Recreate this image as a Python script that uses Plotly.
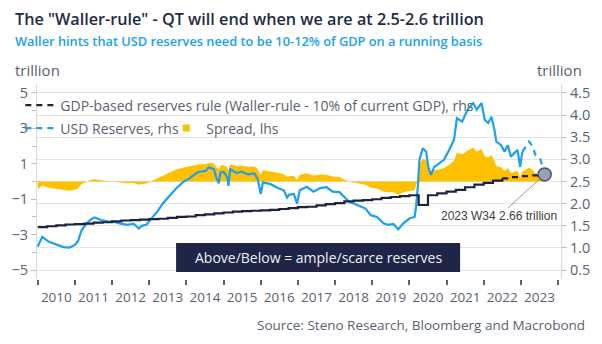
import numpy as np
import plotly.graph_objects as go

# ---- data -------------------------------------------------------------
# USD reserves (trillion), observations as decimal years
res_t = [2010.00, 2010.12, 2010.30, 2010.47, 2010.69, 2010.85, 2011.00, 2011.08, 2011.18, 2011.31,
         2011.44, 2011.53, 2011.70, 2011.88, 2012.06, 2012.23, 2012.41, 2012.58, 2012.72, 2012.80,
         2012.93, 2013.07, 2013.20, 2013.37, 2013.55, 2013.73, 2013.90, 2014.08, 2014.25, 2014.34,
         2014.52, 2014.60, 2014.74, 2014.80, 2014.87, 2014.92, 2015.00, 2015.10, 2015.13, 2015.18,
         2015.35, 2015.48, 2015.66, 2015.83, 2015.92, 2016.00, 2016.06, 2016.27, 2016.45, 2016.62,
         2016.71, 2016.76, 2016.89, 2016.98, 2017.05, 2017.24, 2017.42, 2017.60, 2017.77, 2017.94,
         2018.12, 2018.25, 2018.38, 2018.60, 2018.82, 2018.96, 2019.13, 2019.31, 2019.44, 2019.57,
         2019.70, 2019.83, 2020.01, 2020.14, 2020.18, 2020.23, 2020.27, 2020.36, 2020.45, 2020.51,
         2020.58, 2020.67, 2020.80, 2020.93, 2021.07, 2021.20, 2021.28, 2021.42, 2021.50, 2021.59,
         2021.72, 2021.81, 2021.94, 2022.03, 2022.12, 2022.21, 2022.29, 2022.34, 2022.47, 2022.56,
         2022.65, 2022.73, 2022.82, 2022.91, 2022.98, 2023.04]
res_v = [1.03, 1.25, 1.14, 1.09, 1.02, 1.01, 1.07, 1.15, 1.40, 1.55,
         1.65, 1.69, 1.63, 1.60, 1.59, 1.55, 1.52, 1.55, 1.44, 1.50,
         1.53, 1.68, 1.80, 2.01, 2.19, 2.35, 2.48, 2.57, 2.68, 2.72,
         2.74, 2.82, 2.78, 2.60, 2.46, 2.70, 2.72, 2.60, 2.40, 2.78,
         2.69, 2.72, 2.66, 2.68, 2.55, 2.22, 2.48, 2.44, 2.36, 2.30,
         2.14, 2.20, 2.22, 2.00, 2.30, 2.38, 2.27, 2.35, 2.37, 2.27,
         2.26, 2.16, 2.04, 1.97, 1.89, 1.74, 1.70, 1.55, 1.52, 1.54,
         1.42, 1.55, 1.67, 1.70, 1.93, 2.40, 2.99, 3.25, 3.17, 2.83,
         2.65, 2.83, 2.91, 2.99, 3.21, 3.44, 3.93, 3.85, 4.00, 4.15,
         4.27, 4.12, 4.27, 3.89, 3.82, 3.96, 3.66, 3.40, 3.32, 3.17,
         3.32, 3.06, 3.14, 3.21, 2.83, 3.17]
# projected path of reserves towards 2023 W34
proj_t = [2023.04, 2023.22, 2023.32, 2023.39, 2023.53, 2023.64]
proj_v = [3.17, 3.40, 3.29, 3.10, 2.99, 2.66]

# Waller-rule: 10% of current nominal GDP (trillion), quarterly
rule_t = [2010.00, 2010.25, 2010.50, 2010.75, 2011.00, 2011.25, 2011.50, 2011.75,
          2012.00, 2012.25, 2012.50, 2012.75, 2013.00, 2013.25, 2013.50, 2013.75,
          2014.00, 2014.25, 2014.50, 2014.75, 2015.00, 2015.25, 2015.50, 2015.75,
          2016.00, 2016.25, 2016.50, 2016.75, 2017.00, 2017.25, 2017.50, 2017.75,
          2018.00, 2018.25, 2018.50, 2018.75, 2019.00, 2019.25, 2019.50, 2019.75,
          2020.00, 2020.25, 2020.50, 2020.75, 2021.00, 2021.25, 2021.50, 2021.75,
          2022.00, 2022.25, 2022.50]
rule_v = [1.47, 1.49, 1.51, 1.53, 1.54, 1.55, 1.57, 1.58,
          1.60, 1.62, 1.63, 1.64, 1.65, 1.66, 1.68, 1.70,
          1.71, 1.74, 1.76, 1.78, 1.80, 1.82, 1.83, 1.84,
          1.85, 1.86, 1.88, 1.90, 1.92, 1.93, 1.96, 1.99,
          2.01, 2.05, 2.07, 2.08, 2.10, 2.13, 2.15, 2.17,
          2.19, 1.97, 2.19, 2.23, 2.27, 2.31, 2.37, 2.43,
          2.47, 2.52, 2.57]
rule_proj_t = [2022.50, 2022.75, 2023.00, 2023.25, 2023.64]
rule_proj_v = [2.57, 2.60, 2.62, 2.64, 2.66]

last_label = "2023 W34 2.66 trillion"
last_t, last_v = 2023.64, 2.66

years = list(range(2010, 2024))

# spread = reserves minus the rule value in effect at each observation
all_t = np.array(res_t + proj_t[1:])
all_v = np.array(res_v + proj_v[1:])
rt = np.array(rule_t + rule_proj_t[1:])
rv = np.array(rule_v + rule_proj_v[1:])
idx = np.clip(np.searchsorted(rt, all_t, side="right") - 1, 0, len(rt) - 1)
spread = all_v - rv[idx]

# ---- styling ----------------------------------------------------------
W, H = 602, 344
L, R, T, B = 31, 36, 84, 65
NAVY = "#1c2241"
BLUE = "#1aa0f5"
GOLD = "#FFC000"
GREY = "#5b5f70"
FONT = "Open Sans"


def px(x):
    return (x - L) / (W - L - R)


def py(y):
    return (H - B - y) / (H - T - B)


fig = go.Figure()

fig.add_trace(go.Scatter(x=all_t, y=spread, yaxis="y", mode="lines", fill="tozeroy",
                         fillcolor=GOLD, line=dict(width=0, color=GOLD),
                         showlegend=False, hoverinfo="skip"))
fig.add_trace(go.Scatter(x=res_t, y=res_v, yaxis="y2", mode="lines",
                         line=dict(color=BLUE, width=2.2), showlegend=False))
fig.add_trace(go.Scatter(x=proj_t, y=proj_v, yaxis="y2", mode="lines",
                         line=dict(color=BLUE, width=2.2, dash="6px,5px"),
                         name="USD Reserves, rhs", legend="legend2"))
fig.add_trace(go.Scatter(x=rule_t, y=rule_v, yaxis="y2", mode="lines", line_shape="hv",
                         line=dict(color=NAVY, width=2.2), showlegend=False))
fig.add_trace(go.Scatter(x=rule_proj_t, y=rule_proj_v, yaxis="y2", mode="lines", line_shape="hv",
                         line=dict(color=NAVY, width=2.2, dash="6px,5px"),
                         name="GDP-based reserves rule (Waller-rule - 10% of current GDP), rhs",
                         legend="legend"))
fig.add_trace(go.Scatter(x=[None], y=[None], yaxis="y", mode="markers",
                         marker=dict(symbol="square", size=7, color=GOLD),
                         name="Spread, lhs", legend="legend3"))
fig.add_trace(go.Scatter(x=[last_t], y=[last_v], yaxis="y2", mode="markers",
                         marker=dict(size=13, color="#98a2b6", line=dict(color="#4a5068", width=1.5)),
                         showlegend=False))

legend_font = dict(family=FONT, size=14.0, color=GREY)
fig.update_layout(
    width=W, height=H,
    margin=dict(l=L, r=R, t=T, b=B),
    paper_bgcolor="white", plot_bgcolor="white",
    font=dict(family=FONT, color=GREY),
    legend=dict(x=px(14), y=py(89.5), xanchor="left", yanchor="top", bgcolor="rgba(0,0,0,0)",
                font=legend_font, orientation="h", tracegroupgap=0),
    legend2=dict(x=px(14), y=py(112.5), xanchor="left", yanchor="top", bgcolor="rgba(0,0,0,0)",
                 font=legend_font, orientation="h"),
    legend3=dict(x=px(163), y=py(112.5), xanchor="left", yanchor="top", bgcolor="rgba(0,0,0,0)",
                 font=legend_font, orientation="h"),
    xaxis=dict(range=[2009.98, 2024.08], showgrid=False, zeroline=False, showline=False,
               tickvals=[y + 0.5 for y in years], ticktext=[str(y) for y in years],
               ticks="outside", ticklen=6, tickcolor="rgba(0,0,0,0)",
               tickfont=dict(family=FONT, size=13.5, color=GREY),
               minor=dict(tickvals=years + [2024], ticks="outside", ticklen=5,
                          tickwidth=1.5, tickcolor=GREY)),
    yaxis=dict(range=[-5.5, 5.5], side="left", showgrid=False, zeroline=False,
               showline=True, linecolor="#d9d9d9", linewidth=1,
               tickvals=[-5, -3, -1, 1, 3, 5], ticks="outside", ticklen=5, tickcolor="#bfbfbf",
               tickfont=dict(family=FONT, size=14.5, color=GREY),
               minor=dict(tickvals=[-4, -2, 0, 2, 4], ticks="outside", ticklen=4,
                          tickcolor="#bfbfbf")),
    yaxis2=dict(range=[0.3, 4.7], side="right", overlaying="y", showgrid=True,
                gridcolor="#e3e3e3", gridwidth=1, zeroline=False,
                showline=True, linecolor="#d9d9d9", linewidth=1,
                tickvals=[0.5, 1.0, 1.5, 2.0, 2.5, 3.0, 3.5, 4.0, 4.5],
                ticktext=["0.5", "1.0", "1.5", "2.0", "2.5", "3.0", "3.5", "4.0", "4.5"],
                ticks="outside", ticklen=5, tickcolor="#bfbfbf",
                tickfont=dict(family=FONT, size=14.5, color=GREY)),
    showlegend=True,
)

# callout box
fig.add_shape(type="rect", xref="paper", yref="paper",
              x0=px(173), x1=px(463), y0=py(272), y1=py(243),
              fillcolor="#1f2547", line=dict(width=0), layer="above")

annotations = [
    dict(text='The "Waller-rule" - QT will end when we are at 2.5-2.6 trillion',
         x=px(7), y=py(19), xanchor="left", yanchor="middle",
         font=dict(family=FONT, size=16.2, color="#222a45", weight=600)),
    dict(text="Waller hints that USD reserves need to be 10-12% of GDP on a running basis",
         x=px(7), y=py(41), xanchor="left", yanchor="middle",
         font=dict(family=FONT, size=12.8, color="#1ba1f2", weight=600)),
    dict(text="trillion", x=px(7), y=py(70), xanchor="left", yanchor="middle",
         font=dict(family=FONT, size=15, color=GREY)),
    dict(text="trillion", x=px(589), y=py(70), xanchor="right", yanchor="middle",
         font=dict(family=FONT, size=15, color=GREY)),
    dict(text="Source: Steno Research, Bloomberg and Macrobond", x=px(593), y=py(325),
         xanchor="right", yanchor="middle", font=dict(family=FONT, size=13.5, color=GREY)),
    dict(text="Above/Below = ample/scarce reserves", x=px(318), y=py(257.5),
         xanchor="center", yanchor="middle", font=dict(family=FONT, size=14, color="#eef0f6")),
]
for a in annotations:
    a.update(xref="paper", yref="paper", showarrow=False)
    fig.add_annotation(**a)

fig.add_annotation(x=last_t, y=last_v, xref="x", yref="y2", text=last_label,
                   showarrow=True, arrowhead=0, arrowwidth=1, arrowcolor="#9a9a9a",
                   ax=-46, ay=42, standoff=6,
                   font=dict(family="Liberation Sans", size=12, color="#404040"))

fig.write_html("out.html")
